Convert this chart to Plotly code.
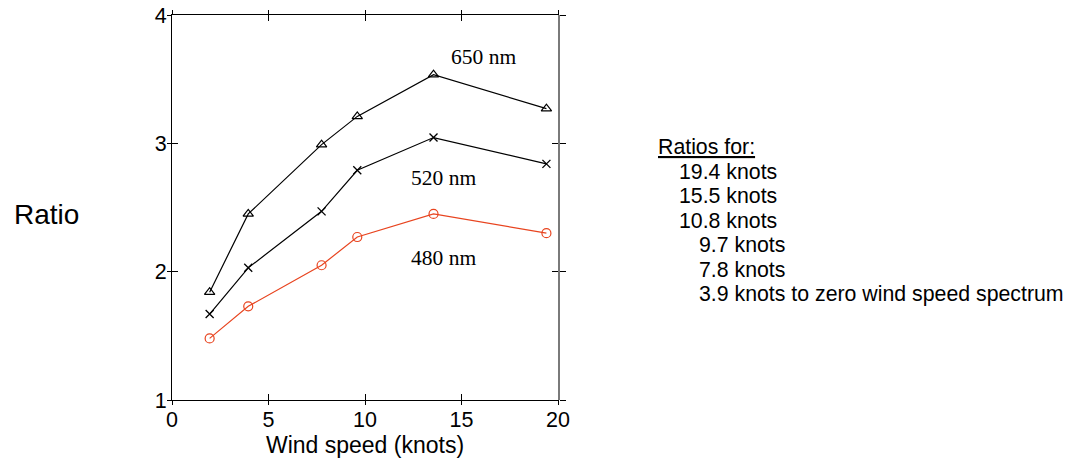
import plotly.graph_objects as go

# Data
wind_speed = [1.95, 3.95, 7.75, 9.6, 13.55, 19.4]
ratio_650 = [1.84, 2.45, 2.99, 3.21, 3.535, 3.27]
ratio_520 = [1.67, 2.03, 2.47, 2.79, 3.045, 2.84]
ratio_480 = [1.48, 1.73, 2.05, 2.27, 2.45, 2.30]

series_labels = ["650 nm", "520 nm", "480 nm"]
label_x = [16.15, 14.08, 14.08]
label_y = [3.67, 2.73, 2.11]

legend_title = "Ratios for:"
legend_lines = ["19.4 knots", "15.5 knots", "10.8 knots", "9.7 knots", "7.8 knots",
                "3.9 knots to zero wind speed spectrum"]
legend_indent = [0, 0, 0, 1, 1, 1]

x_ticks = [0, 5, 10, 15, 20]
y_ticks = [1, 2, 3, 4]

RED = "#e8441f"
SANS = "Arial, Liberation Sans, sans-serif"
SERIF = "Times New Roman, Liberation Serif, serif"

fig = go.Figure()
fig.add_trace(go.Scatter(x=wind_speed, y=ratio_650, mode="lines+markers",
                         line=dict(color="black", width=1.2),
                         marker=dict(symbol="triangle-up-open", size=9, color="black", line=dict(width=1.2))))
fig.add_trace(go.Scatter(x=wind_speed, y=ratio_520, mode="lines+markers",
                         line=dict(color="black", width=1.2),
                         marker=dict(symbol="x-thin-open", size=8, color="black", line=dict(width=1.3))))
fig.add_trace(go.Scatter(x=wind_speed, y=ratio_480, mode="lines+markers",
                         line=dict(color=RED, width=1.2),
                         marker=dict(symbol="circle-open", size=9, color=RED, line=dict(width=1.2))))

for t, xv, yv in zip(series_labels, label_x, label_y):
    fig.add_annotation(x=xv, y=yv, xref="x", yref="y", text=t, showarrow=False,
                       font=dict(family=SERIF, size=21.5, color="black"))

# Side legend text
top_px, step_px, plot_top, plot_bot = 147, 24.6, 14.6, 400.3
fig.add_annotation(xref="paper", yref="paper", x=(656 - 172) / 386, y=(plot_bot - top_px) / (plot_bot - plot_top),
                   xanchor="left", yanchor="middle", text="<u>" + legend_title + "</u>", showarrow=False,
                   font=dict(family=SANS, size=21.3, color="black"))
for i, (line, ind) in enumerate(zip(legend_lines, legend_indent)):
    py = top_px + step_px * (i + 1)
    px = 677 + 20 * ind
    fig.add_annotation(xref="paper", yref="paper", x=(px - 172) / 386, y=(plot_bot - py) / (plot_bot - plot_top),
                       xanchor="left", yanchor="middle", text=line, showarrow=False,
                       font=dict(family=SANS, size=21.3, color="black"))

# y-axis title as free text
fig.add_annotation(xref="paper", yref="paper", x=(12 - 172) / 386, y=(plot_bot - 214) / (plot_bot - plot_top),
                   xanchor="left", yanchor="middle", text="Ratio", showarrow=False,
                   font=dict(family=SANS, size=28, color="black"))

common_x = dict(range=[0, 20], tickvals=x_ticks, showgrid=False, zeroline=False, fixedrange=True)
common_y = dict(range=[1, 4], tickvals=y_ticks, showgrid=False, zeroline=False, fixedrange=True)

fig.update_layout(
    width=1074, height=459,
    margin=dict(l=172, r=1074 - 558, t=15, b=59, autoexpand=False),
    paper_bgcolor="white", plot_bgcolor="white",
    showlegend=False,
    font=dict(family=SANS, size=21, color="black"),
    xaxis=dict(**common_x, showline=True, linecolor="black", linewidth=1,
               ticks="inside", ticklen=6, tickcolor="black", tickwidth=1, mirror="ticks",
               title=dict(text="Wind speed (knots)", font=dict(size=23), standoff=0),
               tickfont=dict(size=21.5), automargin=False),
    xaxis2=dict(**common_x, overlaying="x", side="bottom", showline=False, showticklabels=False,
                ticks="outside", ticklen=4, tickcolor="black", tickwidth=1, mirror="ticks"),
    yaxis=dict(**common_y, showline=True, linecolor="black", linewidth=1,
               ticks="inside", ticklen=6, tickcolor="black", tickwidth=1, mirror="ticks",
               tickfont=dict(size=21.5), automargin=False),
    yaxis2=dict(**common_y, overlaying="y", side="right", showline=True, linecolor="#7a7a7a", linewidth=2,
                showticklabels=False, ticks="outside", ticklen=6, tickcolor="black", tickwidth=1),
    yaxis3=dict(**common_y, overlaying="y", side="left", showline=False, showticklabels=False,
                ticks="outside", ticklen=4, tickcolor="black", tickwidth=1),
)

# invisible traces to activate overlay axes
fig.add_trace(go.Scatter(x=[None], y=[None], xaxis="x2", yaxis="y2", showlegend=False, hoverinfo="skip"))
fig.add_trace(go.Scatter(x=[None], y=[None], xaxis="x2", yaxis="y3", showlegend=False, hoverinfo="skip"))

fig.write_html("out.html", config={"displayModeBar": False},
               post_script="document.body.style.margin='0';document.body.style.overflow='hidden';")
